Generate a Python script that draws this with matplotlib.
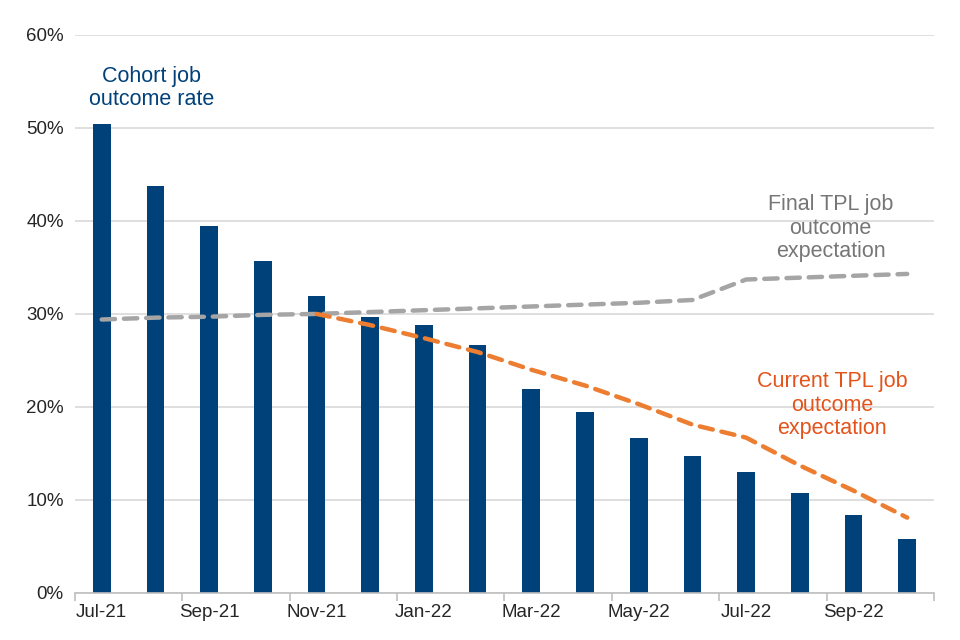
import numpy as np
import matplotlib.pyplot as plt

plt.rcParams['font.family'] = ['Liberation Sans', 'DejaVu Sans']

# months Jul-21 .. Oct-22
months = ['Jul-21', 'Aug-21', 'Sep-21', 'Oct-21', 'Nov-21', 'Dec-21',
          'Jan-22', 'Feb-22', 'Mar-22', 'Apr-22', 'May-22', 'Jun-22',
          'Jul-22', 'Aug-22', 'Sep-22', 'Oct-22']

# cohort job outcome rate (%)
cohort = [50.4, 43.7, 39.5, 35.7, 31.9, 29.7, 28.8, 26.7,
          21.9, 19.5, 16.7, 14.7, 13.0, 10.8, 8.4, 5.8]

# final TPL job outcome expectation (%)
final_tpl = [29.4, 29.6, 29.7, 29.9, 30.0, 30.2, 30.4, 30.6,
             30.8, 31.0, 31.2, 31.5, 33.7, 33.9, 34.1, 34.3]

# current TPL job outcome expectation (%), starts Nov-21
current_start = 4
current_tpl = [30.0, 28.8, 27.4, 25.9, 24.0, 22.3, 20.3, 18.1,
               16.7, 13.7, 11.0, 8.1]

blue = '#00417A'
orange = '#ED7D31'
grey = '#A5A5A5'

fig = plt.figure(figsize=(9.6, 6.4), dpi=100)
ax = fig.add_axes([0.078, 0.0735, 0.895, 0.872])

x = np.arange(len(months))
ax.bar(x, cohort, width=0.33, color=blue, zorder=2)

ax.plot(x, final_tpl, color=grey, lw=3.2, dashes=(3.0, 2.0),
        dash_capstyle='round', zorder=3)
xc = x[current_start:current_start + len(current_tpl)]
ax.plot(xc, current_tpl, color=orange, lw=3.2, dashes=(3.0, 2.0),
        dash_capstyle='round', zorder=4)

ax.set_xlim(-0.5, len(months) - 0.5)
ax.set_ylim(0, 60)
ax.set_yticks(range(0, 61, 10))
ax.set_yticklabels([f'{v}%' for v in range(0, 61, 10)])
ax.yaxis.grid(True, color='#D9D9D9', lw=1.2, zorder=0)
ax.set_axisbelow(True)

ax.set_xticks(x[::2])
ax.set_xticklabels(months[::2])
ax.set_xticks(np.arange(-0.5, len(months), 2), minor=True)
ax.tick_params(axis='x', which='major', length=0, pad=8, labelsize=13.5,
               labelcolor='#262626')
ax.tick_params(axis='x', which='minor', length=6, color='#BFBFBF', width=1.2)
ax.tick_params(axis='y', length=0, pad=8, labelsize=13.5, labelcolor='#262626')

for s in ['top', 'right', 'left']:
    ax.spines[s].set_visible(False)
ax.spines['bottom'].set_color('#BFBFBF')
ax.spines['bottom'].set_linewidth(1.2)

ax.text(0.92, 54.3, 'Cohort job\noutcome rate', color=blue, fontsize=15.5,
        ha='center', va='center', linespacing=1.15)
ax.text(13.57, 39.2, 'Final TPL job\noutcome\nexpectation', color='#767676',
        fontsize=15.5, ha='center', va='center', linespacing=1.15)
ax.text(13.6, 20.2, 'Current TPL job\noutcome\nexpectation', color='#E4531A',
        fontsize=15.5, ha='center', va='center', linespacing=1.15)

fig.savefig('out.png', dpi=100)
